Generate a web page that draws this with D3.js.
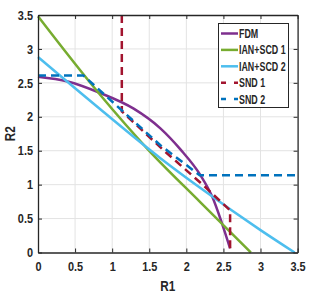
<!DOCTYPE html>
<html>
<head>
<meta charset="utf-8">
<script src="https://cdn.jsdelivr.net/npm/d3@7/dist/d3.min.js"></script>
<style>
  body { margin: 0; background: #fff; }
  text { font-family: "Liberation Sans", Arial, sans-serif; fill: #262626; }
</style>
</head>
<body>
<div id="chart"></div>
<script>
  var seriesNames = ['FDM', 'IAN+SCD 1', 'IAN+SCD 2', 'SND 1', 'SND 2'];

  var fdmX = [0, 0.4, 0.84, 1.29, 1.65, 1.92, 2.19, 2.35, 2.48, 2.59];
  var fdmY = [2.59, 2.52, 2.35, 2.12, 1.83, 1.52, 1.14, 0.82, 0.43, 0.06];

  var ian1X = [0, 0.84, 1.49, 2.19, 2.87];
  var ian1Y = [3.48, 2.32, 1.51, 0.74, 0];

  var ian2X = [0, 0.84, 1.65, 2.19, 3.0, 3.46];
  var ian2Y = [2.88, 2.11, 1.39, 0.95, 0.33, 0];

  var snd1X = [1.13, 1.13, 1.7, 2.23, 2.59, 2.59];
  var snd1Y = [3.5, 2.08, 1.5, 0.99, 0.62, 0.03];

  var snd2X = [0, 0.61, 1.65, 2.18, 3.5];
  var snd2Y = [2.61, 2.61, 1.58, 1.14, 1.14];

  var xTicks = [0, 0.5, 1, 1.5, 2, 2.5, 3, 3.5];
  var yTicks = [0, 0.5, 1, 1.5, 2, 2.5, 3, 3.5];

(function(d3) {
  'use strict';

  var width = 316, height = 297;
  var mLeft = 38, mRight = 297.6, mTop = 15, mBottom = 252.5;
  var squeeze = 0.84;   // narrow look of the original font

  var svg = d3.select('#chart').append('svg')
    .attr('width', width)
    .attr('height', height);

  var x = d3.scaleLinear().domain([0, 3.5]).range([mLeft, mRight]);
  var y = d3.scaleLinear().domain([0, 3.5]).range([mBottom, mTop]);

  // grid
  var grid = svg.append('g').attr('class', 'grid');
  grid.selectAll('.gx').data(xTicks.slice(1, -1)).enter().append('line')
    .attr('x1', function(d){ return x(d); }).attr('x2', function(d){ return x(d); })
    .attr('y1', mTop).attr('y2', mBottom)
    .attr('stroke', '#e3e3e3').attr('stroke-width', 1);
  grid.selectAll('.gy').data(yTicks.slice(1, -1)).enter().append('line')
    .attr('y1', function(d){ return y(d); }).attr('y2', function(d){ return y(d); })
    .attr('x1', mLeft).attr('x2', mRight)
    .attr('stroke', '#e3e3e3').attr('stroke-width', 1);

  var series = [
    { name: seriesNames[0], xs: fdmX, ys: fdmY, color: '#7E2F8E', dash: null, curve: d3.curveMonotoneX },
    { name: seriesNames[1], xs: ian1X, ys: ian1Y, color: '#77AC30', dash: null, curve: d3.curveMonotoneX },
    { name: seriesNames[2], xs: ian2X, ys: ian2Y, color: '#4DBEEE', dash: null, curve: d3.curveMonotoneX },
    { name: seriesNames[3], xs: snd1X, ys: snd1Y, color: '#A2142F', dash: '8,5', curve: d3.curveLinear },
    { name: seriesNames[4], xs: snd2X, ys: snd2Y, color: '#0072BD', dash: '8,5', curve: d3.curveLinear }
  ];

  var plot = svg.append('g').attr('class', 'lines');
  series.forEach(function(s){
    var pts = s.xs.map(function(v, i){ return [v, s.ys[i]]; });
    var line = d3.line()
      .x(function(d){ return x(d[0]); })
      .y(function(d){ return y(d[1]); })
      .curve(s.curve);
    plot.append('path')
      .attr('d', line(pts))
      .attr('fill', 'none')
      .attr('stroke', s.color)
      .attr('stroke-width', 2.5)
      .attr('stroke-dasharray', s.dash);
  });

  // axes, ticks point inward like the original
  var xAxis = svg.append('g')
    .attr('transform', 'translate(0,' + mBottom + ')')
    .call(d3.axisBottom(x).tickValues(xTicks).tickSizeInner(-4).tickSizeOuter(0).tickPadding(9)
      .tickFormat(function(d){ return d; }));
  var yAxis = svg.append('g')
    .attr('transform', 'translate(' + mLeft + ',0)')
    .call(d3.axisLeft(y).tickValues(yTicks).tickSizeInner(-4).tickSizeOuter(0).tickPadding(5)
      .tickFormat(function(d){ return d; }));
  var xTop = svg.append('g')
    .attr('transform', 'translate(0,' + mTop + ')')
    .call(d3.axisTop(x).tickValues(xTicks).tickSizeInner(-4).tickSizeOuter(0).tickFormat(''));
  var yRight = svg.append('g')
    .attr('transform', 'translate(' + mRight + ',0)')
    .call(d3.axisRight(y).tickValues(yTicks).tickSizeInner(-4).tickSizeOuter(0).tickFormat(''));

  [xAxis, yAxis, xTop, yRight].forEach(function(a){
    a.select('.domain').attr('stroke', '#262626').attr('stroke-width', 1.3);
    a.selectAll('.tick line').attr('stroke', '#262626');
    a.selectAll('.tick text')
      .style('font-family', '"Liberation Sans", Arial, sans-serif')
      .style('font-size', '13px')
      .style('font-weight', 'bold')
      .attr('fill', '#262626');
  });
  // squeeze labels horizontally around their anchor
  xAxis.selectAll('.tick text').attr('transform', 'scale(' + squeeze + ',1)');
  yAxis.selectAll('.tick text')
    .attr('transform', 'translate(-5,0) scale(' + squeeze + ',1)')
    .attr('x', 0);

  svg.append('text')
    .attr('transform', 'translate(' + ((mLeft + mRight) / 2) + ',291) scale(' + squeeze + ',1)')
    .attr('text-anchor', 'middle')
    .style('font-size', '14px').style('font-weight', 'bold')
    .text('R1');
  svg.append('text')
    .attr('transform', 'translate(15,' + ((mTop + mBottom) / 2) + ') rotate(-90) scale(' + squeeze + ',1)')
    .attr('text-anchor', 'middle')
    .style('font-size', '14px').style('font-weight', 'bold')
    .text('R2');

  // legend
  var legend = svg.append('g').attr('class', 'legend');
  legend.append('rect')
    .attr('x', 218.5).attr('y', 23.5)
    .attr('width', 70).attr('height', 84)
    .attr('fill', '#fff').attr('stroke', '#262626').attr('stroke-width', 1);
  var item = legend.selectAll('.item').data(series).enter().append('g')
    .attr('transform', function(d, i){ return 'translate(221,' + (33.5 + i * 16.4) + ')'; });
  item.append('line')
    .attr('x1', 0).attr('x2', 17).attr('y1', 0).attr('y2', 0)
    .attr('stroke', function(d){ return d.color; })
    .attr('stroke-width', 2.5)
    .attr('stroke-dasharray', function(d){ return d.dash ? '5,8' : null; });
  item.append('text')
    .attr('transform', 'translate(18,4.5) scale(0.74,1)')
    .style('font-size', '12px').style('font-weight', 'bold')
    .text(function(d){ return d.name; });

})(window.d3);
</script>
</body>
</html>
